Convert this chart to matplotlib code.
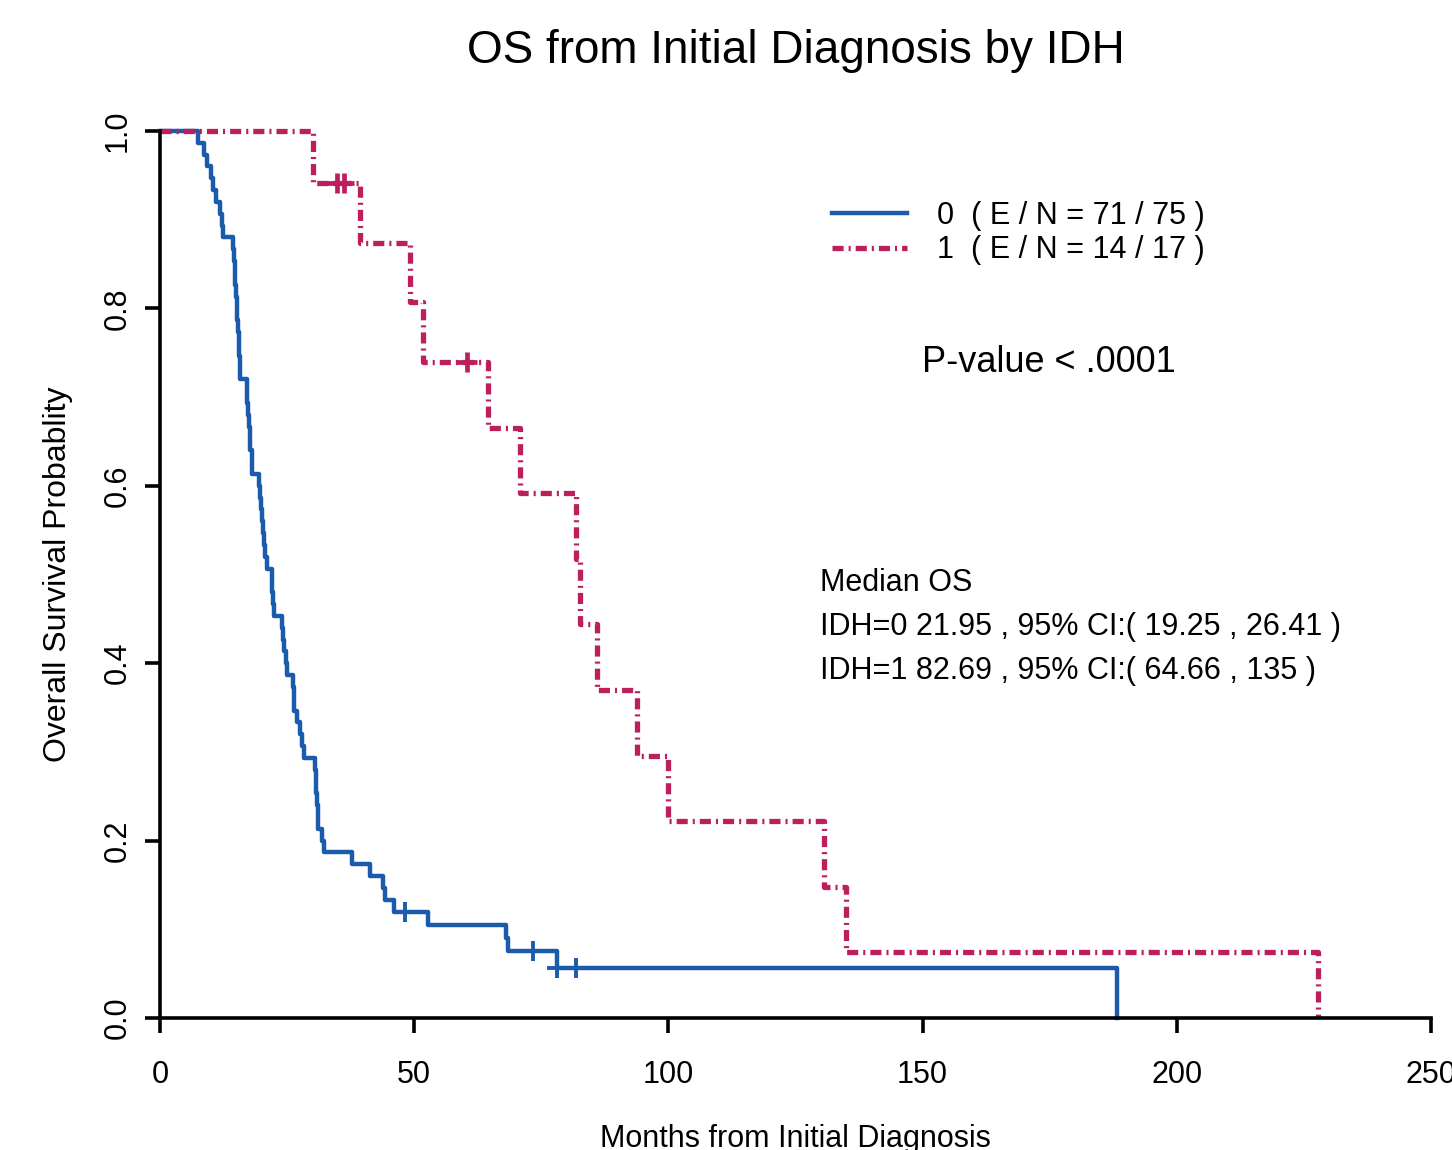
import matplotlib
matplotlib.use("Agg")
import matplotlib.pyplot as plt

plt.rcParams.update({
    "font.family": ["Liberation Sans", "DejaVu Sans"],
    "font.size": 22,
    "lines.scale_dashes": False,
})

BLUE = "#1A5CAB"
RED = "#BC1F5C"

# IDH = 0 (N = 75): months to death, months to censoring
idh0_events = [
    7.5, 8.7, 9.2, 10.0, 10.5, 11.0, 11.9, 12.1, 12.3,
    14.4, 14.6, 14.7, 14.8, 15.0, 15.1, 15.2, 15.3, 15.5, 15.6, 15.7, 15.8,
    17.1, 17.2, 17.4, 17.5, 17.7, 17.8, 18.0, 18.1,
    19.5, 19.7, 19.9, 20.1, 20.3, 20.5, 20.7, 21.0,
    21.95, 22.1, 22.2, 22.5,
    23.9, 24.1, 24.4, 24.8, 25.0,
    26.2, 26.3, 26.4, 26.9, 27.6, 28.0, 28.4,
    30.5, 30.6, 30.7, 30.8, 31.0, 31.1,
    31.9, 32.2,
    37.8, 41.3, 43.9, 44.3, 46.0,
    52.8, 68.1, 68.5, 78.0, 188.3,
]
idh0_censored = [48.2, 73.3, 78.0, 81.8]

# IDH = 1 (N = 17)
idh1_events = [30.1, 39.3, 49.2, 51.8, 64.6, 70.9, 81.9, 82.69, 86.0,
               93.9, 100.0, 130.7, 135.0, 227.8]
idh1_censored = [34.8, 36.2, 60.3]

legend_labels = ["0  ( E / N = 71 / 75 )", "1  ( E / N = 14 / 17 )"]
median_lines = ["Median OS",
                "IDH=0 21.95 , 95% CI:( 19.25 , 26.41 )",
                "IDH=1 82.69 , 95% CI:( 64.66 , 135 )"]
pvalue_text = "P-value < .0001"

x_ticks = [0, 50, 100, 150, 200, 250]
y_ticks = [0.0, 0.2, 0.4, 0.6, 0.8, 1.0]


def kaplan_meier(events, censored):
    """Return step times/survival and the (time, surv) of censor marks."""
    n = len(events) + len(censored)
    s = 1.0
    t_step, s_step, marks = [0.0], [1.0], []
    for t in sorted(set(events) | set(censored)):
        d = events.count(t)
        c = censored.count(t)
        if d:
            s *= (n - d) / n
            t_step.append(t)
            s_step.append(s)
        marks += [(t, s)] * c
        n -= d + c
    return t_step, s_step, marks


fig = plt.figure(figsize=(14.52, 11.5), dpi=100)
ax = fig.add_axes([160 / 1452, 1 - 1018 / 1150, 1271 / 1452, 887 / 1150])

t0, s0, c0 = kaplan_meier(idh0_events, idh0_censored)
t1, s1, c1 = kaplan_meier(idh1_events, idh1_censored)

ax.step(t0, s0, where="post", color=BLUE, linewidth=3.2, clip_on=False,
        label=legend_labels[0])
ax.plot([c[0] for c in c0], [c[1] for c in c0], "+", color=BLUE,
        markersize=15, markeredgewidth=2.8, clip_on=False)

ax.step(t1, s1, where="post", color=RED, linewidth=3.8, clip_on=False,
        linestyle=(0, (8, 3.6, 1.5, 3.6)), dash_capstyle="butt",
        label=legend_labels[1])
ax.plot([c[0] for c in c1], [c[1] for c in c1], "+", color=RED,
        markersize=15, markeredgewidth=3.4, clip_on=False)

ax.set_xlim(0, 250)
ax.set_ylim(0, 1)
ax.set_xticks(x_ticks)
ax.set_yticks(y_ticks)
ax.set_yticklabels([f"{v:.1f}" for v in y_ticks])
for lab in ax.get_yticklabels():
    lab.set_rotation(90)
    lab.set_va("center")

for side in ["top", "right"]:
    ax.spines[side].set_visible(False)
for side in ["left", "bottom"]:
    ax.spines[side].set_linewidth(2.6)
ax.tick_params(axis="both", width=2.6, length=10.5, labelsize=22)
ax.tick_params(axis="y", pad=9)
ax.tick_params(axis="x", pad=20)

ax.legend(loc="upper left", bbox_to_anchor=(0.5286, 0.9215), frameon=False,
          borderpad=0, borderaxespad=0, handlelength=2.45, handletextpad=1.0,
          labelspacing=0.15, fontsize=22)

ax.text(0.5995, 0.7386, pvalue_text, transform=ax.transAxes, fontsize=26,
        ha="left", va="center")
for i, line in enumerate(median_lines):
    ax.text(0.519, 0.4904 - i * 0.0496, line, transform=ax.transAxes,
            fontsize=22, ha="left", va="center")

fig.text(795.5 / 1452, 1 - 51 / 1150, "OS from Initial Diagnosis by IDH",
         fontsize=33, ha="center", va="center")
fig.text(795.5 / 1452, 3 / 1150, "Months from Initial Diagnosis",
         fontsize=22, ha="center", va="baseline")
fig.text(58 / 1452, 1 - 574.5 / 1150, "Overall Survival Probablity",
         fontsize=23, ha="center", va="center", rotation=90)

fig.savefig("out.png", dpi=100)
